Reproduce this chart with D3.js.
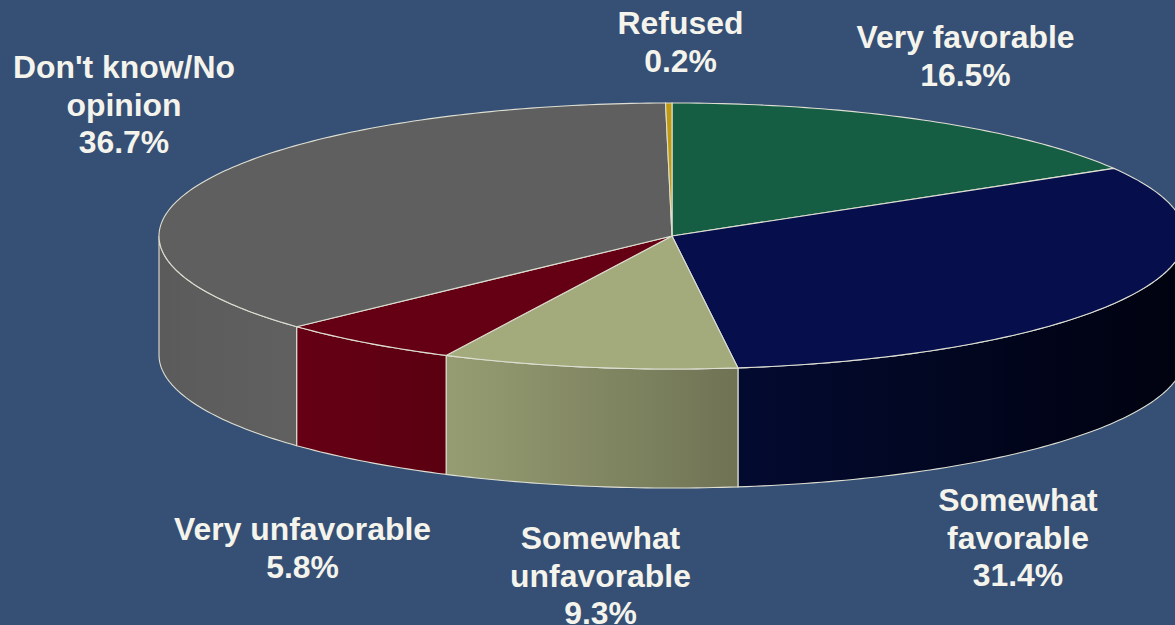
<!DOCTYPE html>
<html><head><meta charset="utf-8">
<script src="https://cdn.jsdelivr.net/npm/d3@7"></script>
<style>html,body{margin:0;padding:0;background:#364f75;overflow:hidden}svg{display:block}
text{font-family:"Liberation Sans",Arial,sans-serif;font-weight:700;font-size:31.9px;fill:#f4f4ec;text-anchor:middle}</style>
</head><body><svg id="c" width="1175" height="625"></svg>
<script>
const categories=["Very favorable","Somewhat favorable","Somewhat unfavorable","Very unfavorable","Don't know/No opinion","Refused"];
const values=[16.5,31.4,9.3,5.8,36.7,0.2];
const topColors=["#155e44","#060f4b","#a3aa7c","#650014","#5f5f5f","#c09a10"];
const sideStops=[["#155e44","#155e44"],["#030a30","#00020f"],["#969d72","#6f7354"],["#660014","#5a0010"],["#5b5b5b","#606060"],["#c09a10","#c09a10"]];
const labelLines=[["Very favorable","16.5%"],["Somewhat","favorable","31.4%"],["Somewhat","unfavorable","9.3%"],["Very unfavorable","5.8%"],["Don't know/No","opinion","36.7%"],["Refused","0.2%"]];
const labelAnchor=[[965.5,38],[1018,501],[600.5,539],[302.5,530],[124,68],[680.5,24]];
const lineStep=37.5;

const svg=d3.select("#c");
const x=d3.scaleLinear().domain([-1,1]).range([159,1185]);
const y=d3.scaleLinear().domain([-1,1]).range([103,369]);
const depth=d3.scaleLinear().domain([0,1]).range([0,119]);
const stroke="#dedfd2";
const pie=d3.pie().sort(null).value(d=>d).startAngle(0).endAngle(2*Math.PI);
const arcs=pie(values);
const px=a=>x(Math.sin(a)),py=a=>y(-Math.cos(a));
function rimPath(a0,a1,dy){
  const n=Math.max(2,Math.ceil((a1-a0)*60));
  return d3.range(n+1).map(i=>a0+(a1-a0)*i/n).map(a=>[px(a),py(a)+dy]);
}
const line=d3.line();
const defs=svg.append("defs");
const gid=i=>"side"+i;
arcs.forEach((d,i)=>{
  const lo=Math.max(d.startAngle,Math.PI/2),hi=Math.min(d.endAngle,Math.PI*1.5);
  if(hi<=lo)return;
  const g=defs.append("linearGradient").attr("id",gid(i)).attr("gradientUnits","userSpaceOnUse")
    .attr("x1",px(hi)).attr("x2",px(lo)).attr("y1",0).attr("y2",0);
  g.append("stop").attr("offset",0).attr("stop-color",sideStops[i][0]);
  g.append("stop").attr("offset",1).attr("stop-color",sideStops[i][1]);
  const top=rimPath(lo,hi,0),bot=rimPath(lo,hi,depth(1)).reverse();
  svg.append("path").attr("d",line(top.concat(bot))+"Z").attr("fill",`url(#${gid(i)})`)
    .attr("stroke",stroke).attr("stroke-width",1.1);
});
arcs.forEach((d,i)=>{
  const pts=[[x(0),y(0)]].concat(rimPath(d.startAngle,d.endAngle,0));
  svg.append("path").attr("d",line(pts)+"Z").attr("fill",topColors[i]).attr("stroke",stroke).attr("stroke-width",1.1);
});
labelLines.forEach((ls,i)=>{
  ls.forEach((t,j)=>svg.append("text").attr("x",labelAnchor[i][0]).attr("y",labelAnchor[i][1]+j*lineStep+10).text(t));
});
</script></body></html>
